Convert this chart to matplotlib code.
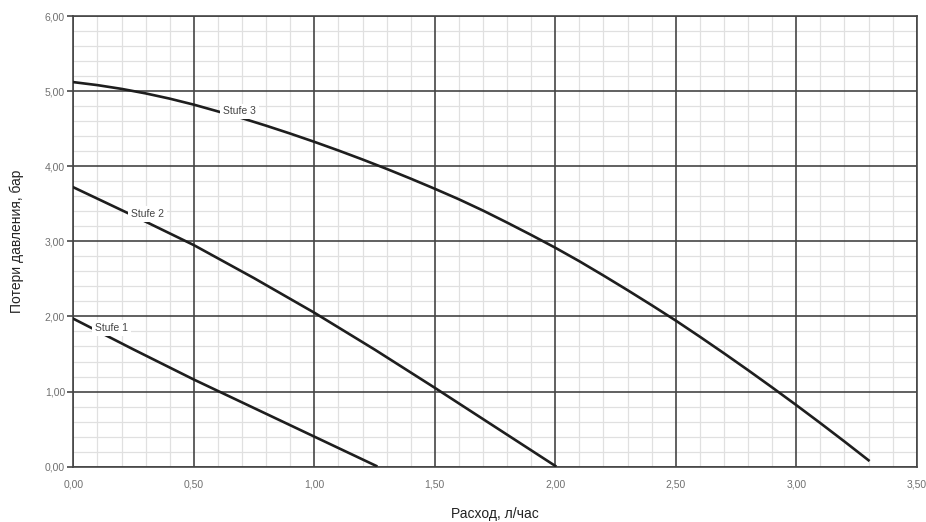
import matplotlib.pyplot as plt
import numpy as np
from matplotlib.ticker import MultipleLocator, FixedLocator, FuncFormatter

plt.rcParams['font.family'] = ['Liberation Sans', 'DejaVu Sans']

# flow (l/h) vs pressure loss (bar)
q3 = [0.0, 0.1, 0.2, 0.3, 0.4, 0.5, 0.6, 0.7, 0.8, 0.9, 1.0, 1.1, 1.2, 1.3, 1.4, 1.5,
      1.6, 1.7, 1.8, 1.9, 2.0, 2.1, 2.2, 2.3, 2.4, 2.5, 2.6, 2.7, 2.8, 2.9, 3.0, 3.1, 3.2, 3.3]
p3 = [5.12, 5.08, 5.03, 4.97, 4.90, 4.82, 4.73, 4.64, 4.54, 4.435, 4.325, 4.21, 4.09, 3.965, 3.835, 3.70,
      3.56, 3.41, 3.25, 3.085, 2.915, 2.735, 2.545, 2.35, 2.15, 1.945, 1.73, 1.51, 1.285, 1.055, 0.82, 0.58, 0.335, 0.085]

q2 = [0.0, 0.25, 0.5, 0.75, 1.0, 1.25, 1.5, 1.75, 2.0]
p2 = [3.72, 3.34, 2.95, 2.51, 2.05, 1.56, 1.05, 0.53, 0.01]

q1 = [0.0, 0.25, 0.5, 0.75, 1.0, 1.257]
p1 = [1.97, 1.56, 1.16, 0.78, 0.40, 0.01]

labels = ['Stufe 1', 'Stufe 2', 'Stufe 3']
label_pos = [(0.159, 1.845), (0.307, 3.365), (0.69, 4.73)]

fig = plt.figure(figsize=(9.26, 5.22), dpi=100)
ax = fig.add_axes([0.0792, 0.1060, 0.9108, 0.8633])

for q, p in [(q1, p1), (q2, p2), (q3, p3)]:
    ax.plot(q, p, color='#1e1e1e', linewidth=1.9, zorder=3, solid_joinstyle='round')

for lab, (x, y) in zip(labels, label_pos):
    ax.text(x, y, lab, fontsize=7.5, color='#444444', ha='center', va='center', zorder=4,
            bbox=dict(facecolor='white', edgecolor='none', pad=2.0))

ax.set_xlim(0, 3.5)
ax.set_ylim(0, 6)
ax.xaxis.set_major_locator(MultipleLocator(0.5))
ax.yaxis.set_major_locator(MultipleLocator(1))
# minor grid lines, skipping the major positions
ax.xaxis.set_minor_locator(FixedLocator([i / 10 for i in range(36) if i % 5]))
ax.yaxis.set_minor_locator(FixedLocator([i / 5 for i in range(31) if i % 5]))
fmt = FuncFormatter(lambda v, pos: f'{v:.2f}'.replace('.', ','))
ax.xaxis.set_major_formatter(fmt)
ax.yaxis.set_major_formatter(fmt)

ax.grid(which='minor', color='#e0e0e0', linewidth=0.9)
ax.set_axisbelow(True)
# major grid on top of the minor one
for v in ax.get_xticks():
    ax.axvline(v, color='#454545', linewidth=1.2, zorder=1)
for v in ax.get_yticks():
    ax.axhline(v, color='#454545', linewidth=1.2, zorder=1)
ax.set_xlim(0, 3.5)
ax.set_ylim(0, 6)

for s in ax.spines.values():
    s.set_color('#454545')
    s.set_linewidth(1.2)

ax.tick_params(axis='both', which='major', labelsize=7.5, labelcolor='#707070', color='#454545')
ax.tick_params(axis='x', which='major', length=0, pad=9)
ax.tick_params(axis='y', which='major', length=4, width=1.2, pad=2)
ax.tick_params(which='minor', length=0)

ax.set_xlabel('Расход, л/час', fontsize=10, color='#222222', labelpad=13)
ax.set_ylabel('Потери давления, бар', fontsize=10, color='#222222', labelpad=15)

plt.savefig('out.png', dpi=100)
